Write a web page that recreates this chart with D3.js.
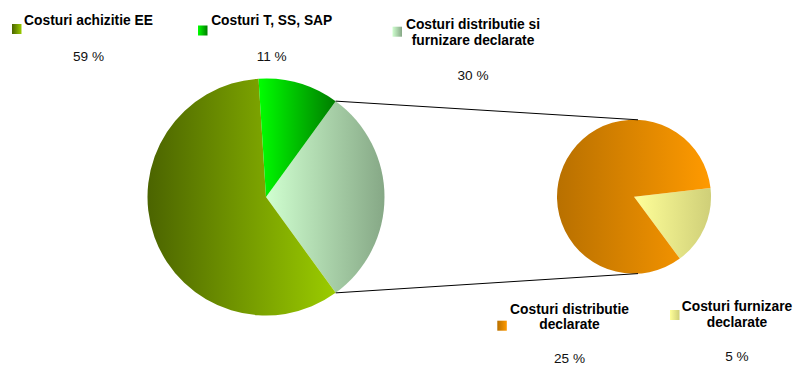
<!DOCTYPE html>
<html>
<head>
<meta charset="utf-8">
<script src="https://cdn.jsdelivr.net/npm/d3@7"></script>
<style>
  html, body { margin: 0; padding: 0; background: #ffffff; }
  svg { display: block; }
  text { font-family: "Liberation Sans", Arial, sans-serif; fill: #000; }
</style>
</head>
<body>
<svg id="chart" width="794" height="365"></svg>
<script>
// Cost structure: main pie, with the distribution + supply share broken out
const mainCategories = ["Costuri distributie si furnizare declarate", "Costuri achizitie EE", "Costuri T, SS, SAP"];
const mainValues = [30, 59, 11];
const subCategories = ["Costuri furnizare declarate", "Costuri distributie declarate"];
const subValues = [5, 25];

// Label text, split into lines, and the value text under it
const labelLines = {
  "Costuri achizitie EE": ["Costuri achizitie EE"],
  "Costuri T, SS, SAP": ["Costuri T, SS, SAP"],
  "Costuri distributie si furnizare declarate": ["Costuri distributie si", "furnizare declarate"],
  "Costuri distributie declarate": ["Costuri distributie", "declarate"],
  "Costuri furnizare declarate": ["Costuri furnizare", "declarate"]
};

// Gradient colours (left -> right) for each slice
const fills = {
  "Costuri achizitie EE": ["#4b6400", "#9bcc00"],
  "Costuri T, SS, SAP": ["#00ff00", "#007d00"],
  "Costuri distributie si furnizare declarate": ["#d0ffd0", "#86a886"],
  "Costuri distributie declarate": ["#b87000", "#ff9a00"],
  "Costuri furnizare declarate": ["#ffff99", "#cfcf78"]
};

// Layout
const main = { cx: 266, cy: 197, r: 118.5 };
const sub = { cx: 634, cy: 196.7, r: 77 };
const labelPos = {
  "Costuri achizitie EE":                        { x: 88.5,  y: 25.3, py: 61,  kx: 12,    ky: 24 },
  "Costuri T, SS, SAP":                          { x: 271.7, y: 25.3, py: 61,  kx: 198,   ky: 25.5 },
  "Costuri distributie si furnizare declarate":  { x: 473,   y: 29,   py: 80,  kx: 392.5, ky: 26.7 },
  "Costuri distributie declarate":               { x: 569.5, y: 313.8, py: 363, kx: 497.3, ky: 320.7 },
  "Costuri furnizare declarate":                 { x: 737,   y: 311,  py: 361, kx: 670,   ky: 310 }
};
const lineGap = 15.5;

const svg = d3.select("#chart");
const defs = svg.append("defs");
const gradId = name => "g" + Object.keys(fills).indexOf(name);
Object.entries(fills).forEach(([name, [c0, c1]]) => {
  const g = defs.append("linearGradient").attr("id", gradId(name))
    .attr("x1", 0).attr("y1", 0).attr("x2", 1).attr("y2", 0);
  g.append("stop").attr("offset", 0).attr("stop-color", c0);
  g.append("stop").attr("offset", 1).attr("stop-color", c1);
});

const deg = Math.PI / 180;

// Main pie: the broken-out slice is centred on the right-hand side
const mainTotal = d3.sum(mainValues);
const mainStart = Math.PI / 2 - Math.PI * mainValues[0] / mainTotal;
const mainPie = d3.pie().sort(null).startAngle(mainStart).endAngle(mainStart + 2 * Math.PI);
const mainArcs = mainPie(mainValues.map((v, i) => ({ name: mainCategories[i], value: v })).map(d => d.value))
  .map((a, i) => Object.assign(a, { name: mainCategories[i] }));
const mainArc = d3.arc().innerRadius(0).outerRadius(main.r);

svg.append("g").attr("transform", `translate(${main.cx},${main.cy})`)
  .selectAll("path").data(mainArcs).join("path")
  .attr("d", mainArc)
  .attr("fill", d => `url(#${gradId(d.name)})`);

// Secondary pie
const subStart = 83.5 * deg;
const subPie = d3.pie().sort(null).startAngle(subStart).endAngle(subStart + 2 * Math.PI);
const subArcs = subPie(subValues).map((a, i) => Object.assign(a, { name: subCategories[i] }));
const subArc = d3.arc().innerRadius(0).outerRadius(sub.r);

svg.append("g").attr("transform", `translate(${sub.cx},${sub.cy})`)
  .selectAll("path").data(subArcs).join("path")
  .attr("d", subArc)
  .attr("fill", d => `url(#${gradId(d.name)})`);

// Connector lines from the broken-out slice edges to the secondary pie
const split = mainArcs[0];
const edgePoint = a => [main.cx + main.r * Math.sin(a), main.cy - main.r * Math.cos(a)];
const subTopAngle = 3 * deg;
const connectors = [
  [edgePoint(split.startAngle), [sub.cx + sub.r * Math.sin(subTopAngle), sub.cy - sub.r * Math.cos(subTopAngle)]],
  [edgePoint(split.endAngle), [sub.cx + sub.r * Math.sin(Math.PI - subTopAngle), sub.cy - sub.r * Math.cos(Math.PI - subTopAngle)]]
];
svg.append("g").selectAll("line").data(connectors).join("line")
  .attr("x1", d => d[0][0]).attr("y1", d => d[0][1])
  .attr("x2", d => d[1][0]).attr("y2", d => d[1][1])
  .attr("stroke", "#000").attr("stroke-width", 1);

// Data labels with legend keys
const allItems = mainCategories.map((n, i) => ({ name: n, value: mainValues[i] }))
  .concat(subCategories.map((n, i) => ({ name: n, value: subValues[i] })));

const lab = svg.append("g").selectAll("g").data(allItems).join("g");
lab.append("rect")
  .attr("x", d => labelPos[d.name].kx).attr("y", d => labelPos[d.name].ky)
  .attr("width", 9.5).attr("height", 10)
  .attr("fill", d => `url(#${gradId(d.name)})`);
lab.append("text")
  .attr("text-anchor", "middle")
  .style("font-weight", "bold").style("font-size", "13.8px")
  .selectAll("tspan").data(d => labelLines[d.name].map((t, i) => ({ t, i, p: labelPos[d.name] })))
  .join("tspan")
  .attr("x", d => d.p.x).attr("y", d => d.p.y + d.i * lineGap)
  .text(d => d.t);
lab.append("text")
  .attr("text-anchor", "middle")
  .style("font-size", "13.6px").style("fill", "#111")
  .attr("x", d => labelPos[d.name].x).attr("y", d => labelPos[d.name].py)
  .text(d => `${d.value} %`);
</script>
</body>
</html>
